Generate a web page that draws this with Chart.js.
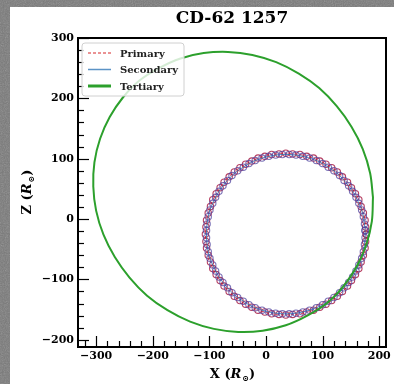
<!DOCTYPE html>
<html>
<head>
<meta charset="utf-8">
<title>CD-62 1257</title>
<script src="https://cdn.jsdelivr.net/npm/chart.js@4.4.1/dist/chart.umd.min.js"></script>
<style>
    html, body { margin: 0; padding: 0; }
    body {
        width: 394px; height: 384px; overflow: hidden;
        background: #787878 url("data:image/svg+xml;utf8,<svg xmlns='http://www.w3.org/2000/svg' width='200' height='200'><filter id='n'><feTurbulence type='fractalNoise' baseFrequency='0.9' numOctaves='2' seed='3'/><feColorMatrix type='saturate' values='0'/></filter><rect width='100%' height='100%' filter='url(%23n)' opacity='0.35'/></svg>");
    }
    #wrap { position: absolute; left: 10px; top: 7px; width: 384px; height: 377px; background: #fff; }
</style>
</head>
<body>
<div id="wrap"><canvas id="orbitChart"></canvas></div>
<script>
// --- DATA ---
const primaryX = [177, 176, 175, 172, 168, 164, 158, 151, 144, 135, 126, 116, 106, 95, 84, 72, 60, 47, 35,
    23, 10, -2, -14, -25, -36, -46, -56, -65, -74, -81, -88, -94, -98, -102, -105, -106, -107,
    -106, -105, -102, -98, -94, -88, -81, -74, -65, -56, -46, -36, -25, -14, -2, 10, 23, 35,
    47, 60, 72, 84, 95, 106, 116, 126, 135, 144, 151, 158, 164, 168, 172, 175, 176, 177];
const primaryZ = [-25, -13, -2, 10, 21, 32, 42, 52, 61, 70, 78, 85, 91, 96, 101, 104, 107, 108, 109,
    108, 107, 104, 101, 96, 91, 85, 78, 70, 61, 52, 42, 32, 21, 10, -2, -13, -25,
    -37, -48, -60, -71, -82, -92, -102, -111, -120, -128, -135, -141, -146, -151, -154, -157, -158, -159,
    -158, -157, -154, -151, -146, -141, -135, -128, -120, -111, -102, -92, -82, -71, -60, -48, -37, -25];

const secondaryX = [175, 174, 172, 169, 164, 159, 153, 146, 138, 130, 120, 110, 100, 89, 77, 65, 53, 41,
    29, 17, 5, -7, -19, -30, -40, -50, -60, -68, -76, -83, -89, -94, -99, -102, -104, -105,
    -105, -104, -102, -99, -94, -89, -83, -76, -68, -60, -50, -40, -30, -19, -7, 5, 17, 29,
    41, 53, 65, 77, 89, 100, 110, 120, 130, 138, 146, 153, 159, 164, 169, 172, 174, 175, 175];
const secondaryZ = [-19, -8, 4, 15, 26, 36, 46, 55, 64, 72, 80, 86, 92, 97, 101, 104, 106, 107,
    107, 106, 104, 101, 97, 92, 86, 80, 72, 64, 55, 46, 36, 26, 15, 4, -8, -19,
    -31, -42, -54, -65, -76, -86, -96, -105, -114, -122, -130, -136, -142, -147, -151, -154, -156, -157,
    -157, -156, -154, -151, -147, -142, -136, -130, -122, -114, -105, -96, -86, -76, -65, -54, -42, -31, -19];

const tertiaryX = [189, 184, 171, 151, 125, 94, 58, 18, -24, -67, -110, -151, -189, -224, -253, -276, -293, -303, -305,
    -300, -287, -267, -241, -210, -174, -134, -92, -49, -6, 35, 73, 108, 137, 160, 177, 187, 189];
const tertiaryZ = [36, 76, 116, 153, 187, 217, 241, 260, 272, 277, 275, 266, 250, 229, 201, 169, 133, 94, 54,
    14, -26, -63, -97, -127, -151, -170, -182, -187, -185, -176, -160, -139, -111, -79, -43, -4, 36];

const xTicks = [-300, -200, -100, 0, 100, 200];
const yTicks = [-200, -100, 0, 100, 200, 300];
const seriesNames = ['Primary', 'Secondary', 'Tertiary'];

// --- HELPERS ---
const toPoints = (xs, zs) => xs.map((x, i) => ({ x: x, y: zs[i] }));
const fmt = v => (v < 0 ? '\u2212' + Math.abs(v) : String(v));
const SERIF = '"DejaVu Serif", "Liberation Serif", serif';

const RED = '#d62728';
const GREEN = '#2ca02c';

// --- FRAME, INWARD TICKS, LEGEND, TITLES ---
const decorations = {
    id: 'decorations',
    afterDraw(chart) {
        const { ctx, chartArea: a, scales: { x, y } } = chart;
        ctx.save();

        // inward ticks, minor every 20
        ctx.strokeStyle = '#000';
        ctx.lineWidth = 1.2;
        for (let v = -320; v <= 200; v += 20) {
            const px = Math.round(x.getPixelForValue(v)) + 0.5;
            const len = v % 100 === 0 ? 11 : 6;
            ctx.beginPath();
            ctx.moveTo(px, a.bottom);
            ctx.lineTo(px, a.bottom - len);
            ctx.stroke();
        }
        for (let v = -200; v <= 300; v += 20) {
            const py = Math.round(y.getPixelForValue(v)) + 0.5;
            const len = v % 100 === 0 ? 11 : 6;
            ctx.beginPath();
            ctx.moveTo(a.left, py);
            ctx.lineTo(a.left + len, py);
            ctx.stroke();
        }

        // frame
        ctx.lineWidth = 2;
        ctx.strokeRect(a.left, a.top, a.right - a.left, a.bottom - a.top);

        // legend box
        const lx = 72, ly = 36, lw = 102, lh = 53;
        ctx.beginPath();
        ctx.roundRect(lx, ly, lw, lh, 3);
        ctx.fillStyle = 'rgba(255,255,255,0.8)';
        ctx.fill();
        ctx.strokeStyle = '#d0d0d0';
        ctx.lineWidth = 1;
        ctx.stroke();

        const rows = [
            { color: RED, width: 1.2, dash: [3, 2] },
            { color: '#5b93c6', width: 1.5, dash: [] },
            { color: GREEN, width: 3, dash: [] }
        ];
        ctx.font = 'bold 10px ' + SERIF;
        ctx.textBaseline = 'middle';
        ctx.textAlign = 'left';
        rows.forEach((r, i) => {
            const ry = ly + 10 + i * 16.5;
            ctx.beginPath();
            ctx.setLineDash(r.dash);
            ctx.strokeStyle = r.color;
            ctx.lineWidth = r.width;
            ctx.moveTo(lx + 6, ry);
            ctx.lineTo(lx + 29, ry);
            ctx.stroke();
            ctx.setLineDash([]);
            ctx.fillStyle = '#222';
            ctx.fillText(seriesNames[i], lx + 38, ry + 1);
        });

        // title
        ctx.fillStyle = '#000';
        ctx.textAlign = 'center';
        ctx.font = 'bold 17px ' + SERIF;
        ctx.fillText('CD-62 1257', (a.left + a.right) / 2, 12);

        // axis titles: "X (R⊙)" and "Z (R⊙)"
        const drawAxisTitle = (letter, cx, cy, rot) => {
            const parts = [
                { t: letter + ' (', f: 'bold 13px ' + SERIF, dy: 0 },
                { t: 'R', f: 'italic bold 13px ' + SERIF, dy: 0 },
                { t: '\u2299', f: 'bold 8px ' + SERIF, dy: 4 },
                { t: ')', f: 'bold 13px ' + SERIF, dy: 0 }
            ];
            let total = 0;
            parts.forEach(p => { ctx.font = p.f; p.w = ctx.measureText(p.t).width; total += p.w; });
            ctx.save();
            ctx.translate(cx, cy);
            ctx.rotate(rot);
            ctx.textAlign = 'left';
            ctx.textBaseline = 'middle';
            let px = -total / 2;
            parts.forEach(p => {
                ctx.font = p.f;
                ctx.fillText(p.t, px, p.dy);
                px += p.w + (p.t === 'R' ? 1 : 0);
            });
            ctx.restore();
        };
        drawAxisTitle('X', (a.left + a.right) / 2, 368, 0);
        drawAxisTitle('Z', 18, (a.top + a.bottom) / 2, -Math.PI / 2);

        ctx.restore();
    }
};

// --- CHART ---
const ringPoint = color => ({
    pointRadius: 3.2,
    pointStyle: 'circle',
    pointBorderWidth: 1.1,
    pointBorderColor: color,
    pointBackgroundColor: 'rgba(255,255,255,0)'
});

new Chart(document.getElementById('orbitChart'), {
    type: 'scatter',
    data: {
        datasets: [
            Object.assign({
                label: seriesNames[0],
                data: toPoints(primaryX, primaryZ),
                showLine: true,
                borderColor: 'rgba(200,40,60,0.85)',
                borderWidth: 1,
                borderDash: [3, 2],
                tension: 0.33,
                order: 2
            }, ringPoint('rgba(170,30,70,0.85)')),
            Object.assign({
                label: seriesNames[1],
                data: toPoints(secondaryX, secondaryZ),
                showLine: true,
                borderColor: 'rgba(31,119,180,0.8)',
                borderWidth: 1,
                tension: 0.33,
                order: 1
            }, ringPoint('rgba(80,70,160,0.75)')),
            {
                label: seriesNames[2],
                data: toPoints(tertiaryX, tertiaryZ),
                showLine: true,
                borderColor: GREEN,
                borderWidth: 2,
                pointRadius: 0,
                tension: 0.33,
                order: 0
            }
        ]
    },
    options: {
        responsive: true,
        maintainAspectRatio: false,
        devicePixelRatio: 1,
        animation: false,
        layout: { padding: { top: 31, right: 8, left: 0, bottom: 0 } },
        plugins: {
            legend: { display: false },
            tooltip: { enabled: false },
            title: { display: false }
        },
        scales: {
            x: {
                type: 'linear',
                min: -332,
                max: 212,
                grid: { display: false, drawTicks: false },
                border: { display: false },
                afterBuildTicks: s => { s.ticks = xTicks.map(v => ({ value: v })); },
                afterFit: s => { s.height = 37; },
                ticks: {
                    color: '#000',
                    padding: 3,
                    maxRotation: 0,
                    font: { family: SERIF, size: 11, weight: 'bold' },
                    callback: v => fmt(v)
                }
            },
            y: {
                type: 'linear',
                min: -212,
                max: 300,
                grid: { display: false, drawTicks: false },
                border: { display: false },
                afterBuildTicks: s => { s.ticks = yTicks.map(v => ({ value: v })); },
                afterFit: s => { s.width = 68; },
                ticks: {
                    color: '#000',
                    padding: 4,
                    font: { family: SERIF, size: 11, weight: 'bold' },
                    callback: v => fmt(v)
                }
            }
        }
    },
    plugins: [decorations]
});
</script>
</body>
</html>
